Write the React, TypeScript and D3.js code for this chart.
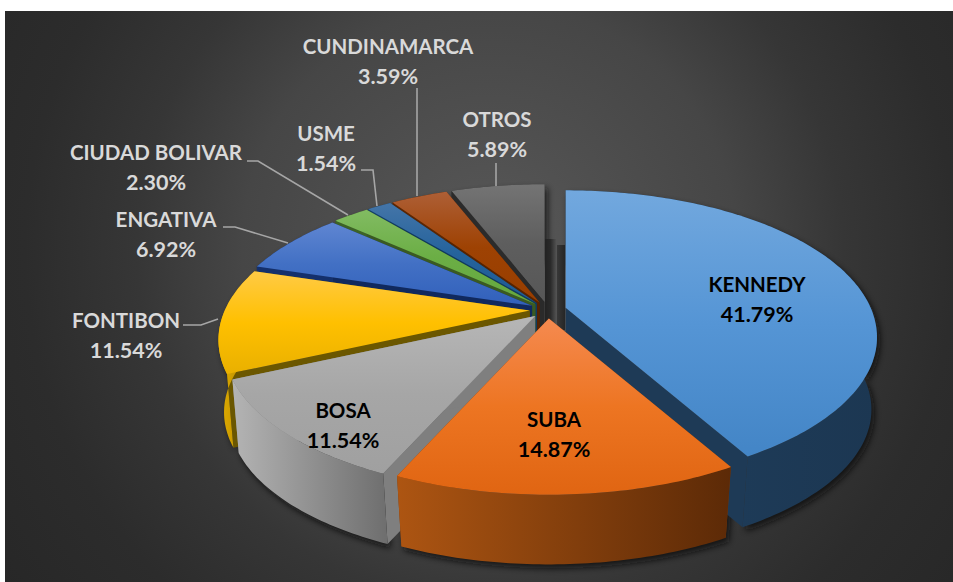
import React from "react";
import * as d3 from "d3";

// ---- data ----
const categories = ["KENNEDY", "SUBA", "BOSA", "FONTIBON", "ENGATIVA", "CIUDAD BOLIVAR", "USME", "CUNDINAMARCA", "OTROS"];
const shares = [41.79, 14.87, 11.54, 11.54, 6.92, 2.3, 1.54, 3.59, 5.89];
const shareLabels = ["41.79%", "14.87%", "11.54%", "11.54%", "6.92%", "2.30%", "1.54%", "3.59%", "5.89%"];

// ---- colours ----
const topLight = ["#72a8de", "#f58a50", "#b6b6b6", "#ffca45", "#5f86d2", "#82bb62", "#4475a8", "#ae5f36", "#747474"];
const topMid = ["#5595d5", "#ed7522", "#a6a6a6", "#ffc000", "#4270c4", "#6bae45", "#25639c", "#9e4203", "#5e5e5e"];
const topDark = ["#4385c6", "#e06512", "#a0a0a0", "#e9b000", "#3160bb", "#66a83f", "#1f5a92", "#983e00", "#575757"];
const wallLeft = ["#1f3f5e", "#ad5512", "#b4b4b4", "#e3ae00", "#14306c", "#3d6326", "#12406a", "#5c2602", "#2b2b2b"];
const wallRight = ["#1c3752", "#5c2a07", "#6e6e6e", "#a37c00", "#14306c", "#3d6326", "#12406a", "#5c2602", "#2b2b2b"];
const edgeWall = ["#1e3a56", "#7a3a0c", "#7f7f7f", "#6b5700", "#10295e", "#3a5a22", "#0f3a60", "#572300", "#2a2a2a"];
const paintOrder = [8, 7, 6, 5, 4, 3, 0, 2, 1];

// ---- labels ----
const labelX = [757, 554, 343, 126, 166, 156, 326, 388, 497];
const labelY = [287, 422, 413, 323, 222, 155, 136, 49, 122];
const labelInk = ["#000000", "#000000", "#000000", "#d9d9d9", "#d9d9d9", "#d9d9d9", "#d9d9d9", "#d9d9d9", "#d9d9d9"];
const leaderLines: ([number, number][] | null)[] = [
  null, null, null,
  [[183, 325], [201, 325], [218, 319]],
  [[223, 227], [235, 227], [288, 243]],
  [[247, 161], [258, 161], [348, 215]],
  [[361, 170], [373, 170], [377, 206]],
  [[417, 88], [417, 196]],
  [[496, 163], [496, 186]],
];

// ---- projection of the pie ----
const W = 953, H = 582;
const CX = 548, CY = 310, RX = 305, RY = 141, PERSP = 0.2, EXPLODE = 0.06, DEPTH = 75;

const project = (x: number, y: number, apex: [number, number], bottom: boolean): [number, number] => {
  const d = 1 - PERSP * y;
  const sx = (RX * x) / d, sy = (RY * y) / d;
  const shrink = 0.985 - 0.015 * y;
  return bottom ? [apex[0] + sx * shrink, apex[1] + sy * shrink + DEPTH] : [apex[0] + sx, apex[1] + sy];
};

const arcs = d3.pie<number>().sort(null)(shares);
const line = d3.line();

export default function App() {
  const slices = arcs.map((a, i) => {
    const mid = (a.startAngle + a.endAngle) / 2;
    const apex: [number, number] = [CX + RX * EXPLODE * Math.sin(mid), CY - RY * EXPLODE * Math.cos(mid)];
    const n = Math.max(4, Math.ceil((a.endAngle - a.startAngle) * 60));
    const angles = d3.range(n + 1).map((k) => a.startAngle + ((a.endAngle - a.startAngle) * k) / n);
    const rim = (bottom: boolean) => angles.map((t) => project(Math.sin(t), -Math.cos(t), apex, bottom));
    const rimTop = rim(false), rimBot = rim(true);
    const apexTop = project(0, 0, apex, false), apexBot = project(0, 0, apex, true);
    const sweep = d3.range(n).map((k) => line([rimTop[k], rimTop[k + 1], rimBot[k + 1], rimBot[k]])! + "Z").join("");
    return {
      i,
      top: line([apexTop, ...rimTop])! + "Z",
      outer: sweep,
      startWall: line([apexTop, rimTop[0], rimBot[0], apexBot])! + "Z",
      endWall: line([apexTop, rimTop[n], rimBot[n], apexBot])! + "Z",
    };
  });

  return (
    <svg width={W} height={H} style={{ position: "absolute", left: 0, top: 0 }}>
      <defs>
        <radialGradient id="bg" gradientUnits="userSpaceOnUse" cx={490} cy={250} r={620}>
          <stop offset="0" stopColor="#585858" />
          <stop offset="0.4" stopColor="#464646" />
          <stop offset="0.57" stopColor="#363636" />
          <stop offset="0.75" stopColor="#2c2c2c" />
          <stop offset="1" stopColor="#262626" />
        </radialGradient>
        <filter id="sh" x="-20%" y="-20%" width="140%" height="140%">
          <feGaussianBlur stdDeviation="3" />
        </filter>
        <linearGradient id="centerBarA" x1="0" x2="1" y1="0" y2="0">
          <stop offset="0" stopColor="#222222" />
          <stop offset="0.5" stopColor="#2a2a2a" />
          <stop offset="1" stopColor="#505050" />
        </linearGradient>
        <linearGradient id="centerBarB" x1="0" x2="1" y1="0" y2="0">
          <stop offset="0" stopColor="#383838" />
          <stop offset="1" stopColor="#262626" />
        </linearGradient>
        {categories.map((_, i) => (
          <React.Fragment key={i}>
            <linearGradient id={`top${i}`} x1="0" x2="0" y1="0" y2="1">
              <stop offset="0" stopColor={topLight[i]} />
              <stop offset="0.5" stopColor={topMid[i]} />
              <stop offset="1" stopColor={topDark[i]} />
            </linearGradient>
            <linearGradient id={`wall${i}`} x1="0" x2="1" y1="0" y2="0">
              <stop offset="0" stopColor={wallLeft[i]} />
              <stop offset="1" stopColor={wallRight[i]} />
            </linearGradient>
          </React.Fragment>
        ))}
      </defs>

      <rect x={5} y={11} width={948} height={571} fill="url(#bg)" />

      {/* soft shadow below the walls */}
      <g filter="url(#sh)" opacity={0.8} transform="translate(3,4)">
        {slices.map((s) => (
          <path key={s.i} d={s.outer} fill="#0c0c0c" />
        ))}
      </g>

      <rect x={545} y={239} width={11} height={85} fill="url(#centerBarA)" />
      <rect x={557} y={245} width={8} height={85} fill="url(#centerBarB)" />

      {paintOrder.map((i) => {
        const s = slices[i];
        return (
          <g key={i}>
            <path d={s.startWall} fill={edgeWall[i]} />
            <path d={s.endWall} fill={edgeWall[i]} />
            <path d={s.outer} fill={`url(#wall${i})`} />
            <path d={s.top} fill={`url(#top${i})`} />
          </g>
        );
      })}

      {leaderLines.map((pts, i) =>
        pts ? <path key={i} d={line(pts)!} fill="none" stroke="#a6a6a6" strokeWidth={1.6} /> : null
      )}

      <g fontFamily="Lato, 'Open Sans', sans-serif" fontWeight={700} textAnchor="middle">
        {categories.map((c, i) => (
          <text key={c} x={labelX[i]} y={labelY[i]} fill={labelInk[i]} dominantBaseline="middle">
            <tspan x={labelX[i]} fontSize={20.5}>{c}</tspan>
            <tspan x={labelX[i]} dy={29} fontSize={21.5}>{shareLabels[i]}</tspan>
          </text>
        ))}
      </g>
    </svg>
  );
}
